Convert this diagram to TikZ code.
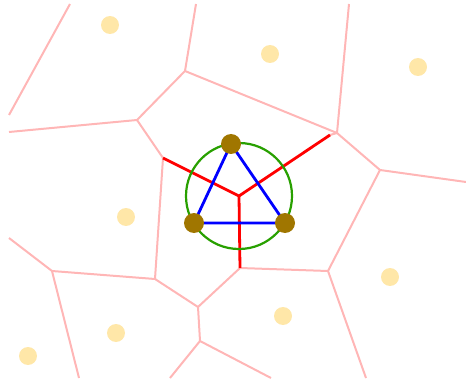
\documentclass[tikz,border=0pt]{standalone}
\usetikzlibrary{calc}
\definecolor{vpink}{RGB}{255,182,182}
\definecolor{site}{RGB}{255,231,168}
\definecolor{tri}{RGB}{160,118,0}
\definecolor{cgreen}{RGB}{40,160,0}
\tikzset{
  vedge/.style={vpink, line width=2pt, line join=round},
  redge/.style={red, line width=2.8pt},
  dedge/.style={blue, line width=2.8pt},
  sitedot/.style={circle, fill=site, inner sep=0pt, minimum size=18pt},
  tridot/.style={circle, fill=tri, inner sep=0pt, minimum size=20pt},
}
\begin{document}
\begin{tikzpicture}[x=1pt,y=-1pt]
\useasboundingbox (0,0) rectangle (466,385);
% Voronoi vertices
\coordinate (V1) at (137,120);
\coordinate (V2) at (185,71);
\coordinate (V3) at (337,133);
\coordinate (V4) at (380,170);
\coordinate (V5) at (328,271);
\coordinate (V6) at (240,268);
\coordinate (V7) at (198,307);
\coordinate (V8) at (155,279);
\coordinate (V9) at (52,271);
\coordinate (V10) at (200,341);
\coordinate (R1) at (163,158);
\coordinate (R2) at (330,135);
\coordinate (O) at (239,196);
% boundary ends
\coordinate (B1) at (9,132);
\coordinate (B2) at (196,4);
\coordinate (B3) at (349,4);
\coordinate (B4) at (466,182);
\coordinate (B5) at (366,378);
\coordinate (B6) at (9,238);
\coordinate (B7) at (79,378);
\coordinate (B8) at (170,378);
\coordinate (B9) at (271,378);
\coordinate (B10) at (9,115);
\coordinate (B11) at (70,4);
% Voronoi edges
\draw[vedge] (B10) -- (B11);
\draw[vedge] (B1) -- (V1) -- (V2) -- (B2);
\draw[vedge] (V1) -- (R1) -- (V8);
\draw[vedge] (V2) -- (V3) -- (B3);
\draw[vedge] (R2) -- (V3) -- (V4) -- (B4);
\draw[vedge] (V4) -- (V5) -- (B5);
\draw[vedge] (V5) -- (V6) -- (V7) -- (V8) -- (V9) -- (B6);
\draw[vedge] (V9) -- (B7);
\draw[vedge] (V7) -- (V10) -- (B8);
\draw[vedge] (V10) -- (B9);
% sites
\foreach \p/\n in {{(110,25)}/s1,{(270,54)}/s2,{(418,67)}/s3,{(126,217)}/s4,{(116,333)}/s5,{(28,356)}/s6,{(283,316)}/s7,{(390,277)}/s8}
  \node[sitedot] (\n) at \p {};
% red edges
\draw[redge] (R1) -- (O) -- (R2);
\draw[redge] (O) -- (V6);
% circumcircle
\draw[cgreen, line width=2.2pt] (O) circle (53);
% triangle
\coordinate (A) at (231,144);
\coordinate (B) at (194,223);
\coordinate (C) at (285,223);
\draw[dedge] (A) -- (B) -- (C) -- cycle;
\node[tridot] (a) at (A) {};
\node[tridot] (b) at (B) {};
\node[tridot] (c) at (C) {};
\end{tikzpicture}
\end{document}
